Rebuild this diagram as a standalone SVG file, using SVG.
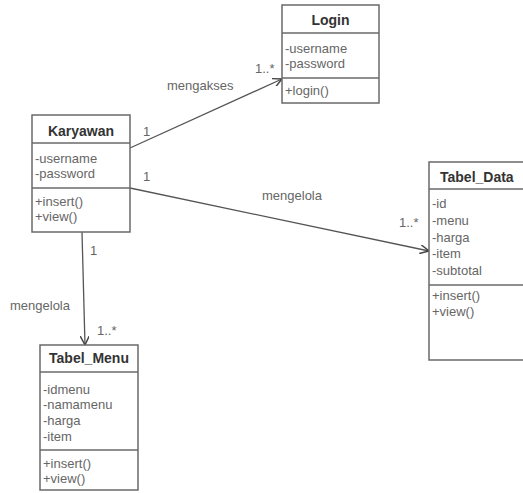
<svg xmlns="http://www.w3.org/2000/svg" width="523" height="493" viewBox="0 0 523 493">
<style>
.box{fill:#fff;stroke:#6a6a6a;stroke-width:1.5}
.div{stroke:#6a6a6a;stroke-width:1.5}
.t{font-family:"Liberation Sans",Arial,sans-serif;font-size:14px;font-weight:bold;fill:#333;text-anchor:middle;dominant-baseline:central}
.a{font-family:"Liberation Sans",Arial,sans-serif;font-size:13px;fill:#666;dominant-baseline:central}
.l{font-family:"Liberation Sans",Arial,sans-serif;font-size:13px;fill:#666;dominant-baseline:central}
.c{fill:none;stroke:#555;stroke-width:1.3}
</style>
<defs>
<marker id="arr" viewBox="0 0 10 10" refX="10" refY="5" markerWidth="9" markerHeight="9" markerUnits="userSpaceOnUse" orient="auto">
<path d="M0,0 L10,5 L0,10" fill="none" stroke="#444" stroke-width="1.6"/>
</marker>
</defs>
<rect width="523" height="493" fill="#fff"/>
<g id="connectors">
<line class="c" x1="130" y1="148" x2="282" y2="79" marker-end="url(#arr)"/>
<line class="c" x1="130" y1="188" x2="429" y2="251" marker-end="url(#arr)"/>
<line class="c" x1="82" y1="232" x2="85" y2="345" marker-end="url(#arr)"/>
<text class="l" x="143" y="131">1</text>
<text class="l" x="255" y="68">1..*</text>
<text class="l" x="167" y="85">mengakses</text>
<text class="l" x="143" y="176">1</text>
<text class="l" x="262" y="195">mengelola</text>
<text class="l" x="399" y="222">1..*</text>
<text class="l" x="90" y="250">1</text>
<text class="l" x="10" y="305">mengelola</text>
<text class="l" x="97" y="330">1..*</text>
</g>
<g id="login">
<rect class="box" x="282" y="5" width="97" height="98"/>
<line class="div" x1="282" y1="33" x2="379" y2="33"/>
<line class="div" x1="282" y1="78" x2="379" y2="78"/>
<text class="t" x="330.5" y="20">Login</text>
<text class="a" x="285" y="48">-username</text>
<text class="a" x="285" y="63">-password</text>
<text class="a" x="285" y="90">+login()</text>
</g>
<g id="karyawan">
<rect class="box" x="32" y="115" width="98" height="117"/>
<line class="div" x1="32" y1="143" x2="130" y2="143"/>
<line class="div" x1="32" y1="188" x2="130" y2="188"/>
<text class="t" x="81" y="131">Karyawan</text>
<text class="a" x="35" y="158">-username</text>
<text class="a" x="35" y="173">-password</text>
<text class="a" x="35" y="201">+insert()</text>
<text class="a" x="35" y="216">+view()</text>
</g>
<g id="tabel_data">
<rect class="box" x="429" y="162" width="120" height="198"/>
<line class="div" x1="429" y1="189" x2="549" y2="189"/>
<line class="div" x1="429" y1="285" x2="549" y2="285"/>
<text class="t" x="440" y="177" style="text-anchor:start">Tabel_Data</text>
<text class="a" x="432" y="203">-id</text>
<text class="a" x="432" y="220">-menu</text>
<text class="a" x="432" y="237">-harga</text>
<text class="a" x="432" y="253">-item</text>
<text class="a" x="432" y="270">-subtotal</text>
<text class="a" x="432" y="295">+insert()</text>
<text class="a" x="432" y="311">+view()</text>
</g>
<g id="tabel_menu">
<rect class="box" x="40" y="345" width="98" height="145"/>
<line class="div" x1="40" y1="372" x2="138" y2="372"/>
<line class="div" x1="40" y1="450" x2="138" y2="450"/>
<text class="t" x="89" y="358">Tabel_Menu</text>
<text class="a" x="43" y="389">-idmenu</text>
<text class="a" x="43" y="404">-namamenu</text>
<text class="a" x="43" y="420">-harga</text>
<text class="a" x="43" y="436">-item</text>
<text class="a" x="43" y="463">+insert()</text>
<text class="a" x="43" y="478">+view()</text>
</g>
</svg>
